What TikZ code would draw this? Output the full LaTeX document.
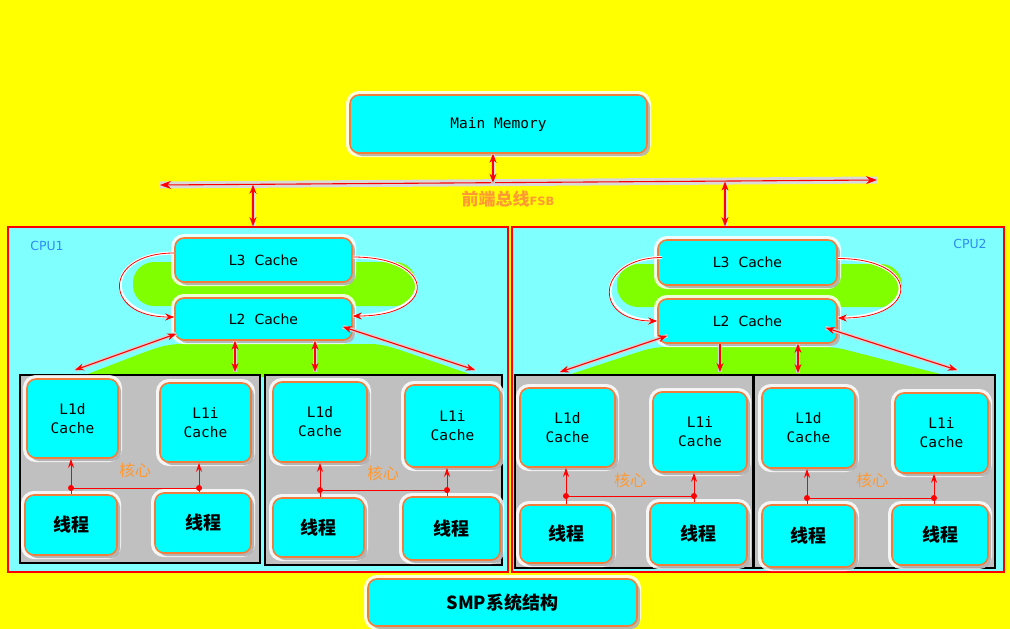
\documentclass[tikz,border=0pt]{standalone}
\usepackage{fontspec}
\setmainfont{DejaVu Sans}
\newfontfamily\monofont{DejaVu Sans Mono}
\newfontfamily\cjk{Noto Sans CJK SC}
\usetikzlibrary{arrows.meta,shadows}

\definecolor{bgyellow}{HTML}{FFFF00}
\definecolor{cpuface}{HTML}{80FFFF}
\definecolor{blobgreen}{HTML}{80FF00}
\definecolor{boxface}{HTML}{00FFFF}
\definecolor{boxline}{HTML}{F07D3C}
\definecolor{coreface}{HTML}{C0C0C0}
\definecolor{cpulabel}{HTML}{2D8CF0}
\definecolor{coretext}{HTML}{FF9933}

\tikzset{
  cachebox/.style={draw=boxline, line width=1.6pt, fill=boxface, rounded corners=9pt,
    align=center, inner sep=2pt,
    preaction={draw=white, line width=8pt, opacity=0.85},
    drop shadow={shadow xshift=3pt, shadow yshift=-3pt, fill=gray, opacity=0.55}},
  cpubox/.style={draw=red, line width=1.8pt, fill=cpuface},
  corebox/.style={draw=black, line width=1.5pt, fill=coreface},
  sanstext/.style={font=\fontsize{14}{17}\selectfont},
  monotext/.style={font=\monofont\fontsize{14.5}{19}\selectfont},
  threadtext/.style={font=\cjk\bfseries\fontsize{18}{20}\selectfont},
  corelabel/.style={font=\cjk\fontsize{16}{18}\selectfont, text=coretext},
  cpuname/.style={font=\fontsize{12.5}{14}\selectfont, text=cpulabel},
  link/.style={red, line width=1.1pt, {Stealth[length=9pt,width=7pt]}-{Stealth[length=9pt,width=7pt]},
    preaction={draw=gray!35, line width=4pt, -}},
  loopline/.style={red, line width=0.8pt, -{Stealth[length=9pt,width=7pt]},
    preaction={draw=white, line width=3pt, -}},
  wire/.style={red, line width=1pt, -{Stealth[length=9pt,width=6pt]}},
  junction/.style={red}
}

\begin{document}
\begin{tikzpicture}[x=1pt, y=-1pt]
\useasboundingbox (0,0) rectangle (1010,629);
\fill[bgyellow] (0,0) rectangle (1010,629);

% memory and front side bus
\node[cachebox, monotext, minimum width=297pt, minimum height=58pt] (mem) at (498.5,124) {Main Memory};
\coordinate (fsbw) at (160,185);
\coordinate (fsbe) at (877,180);
\coordinate (fsbm) at (493,182.7);
\coordinate (fsba) at (253,184.8);
\coordinate (fsbb) at (725,181.6);
\draw[red, line width=1.1pt, {Stealth[length=11pt,width=8pt]}-{Stealth[length=11pt,width=8pt]},
  preaction={draw=gray!30, line width=7pt, -}] (fsbw) -- (fsbe);
\node (fsblabel) at (508,199) {{\cjk\bfseries\fontsize{17}{17}\selectfont\color{coretext}前端总线}{\bfseries\fontsize{11.5}{12}\selectfont\color{coretext}FSB}};

% processors
\node[cpubox, minimum width=500pt, minimum height=345pt] (cpu1) at (258,399.5) {};
\node[cpubox, minimum width=492pt, minimum height=345pt] (cpu2) at (758,399.5) {};
\node[cpuname] (cpu1name) at (47,246) {CPU1};
\node[cpuname] (cpu2name) at (970,244) {CPU2};

\draw[link] (mem.south -| fsbm) -- (fsbm);
\draw[link] (fsba) -- (fsba |- cpu1.north);
\draw[link] (fsbb) -- (fsbb |- cpu2.north);

% green areas
\fill[blobgreen, rounded corners=21pt] (133,262) rectangle (416,306);
\fill[blobgreen, rounded corners=10pt] (80,377) -- (150,350) -- (170,344) -- (380,344) -- (400,350) -- (478,377) -- cycle;
\fill[blobgreen, rounded corners=21pt] (617,264) rectangle (902,307);
\fill[blobgreen, rounded corners=10pt] (562,377) -- (635,353) -- (655,347) -- (835,347) -- (858,353) -- (952,377) -- cycle;

% CPU1
\node[cachebox, sanstext, minimum width=177pt, minimum height=44pt] (l3a) at (263.5,260) {L3\ \ Cache};
\node[cachebox, sanstext, minimum width=177pt, minimum height=42pt] (l2a) at (263.5,319) {L2\ \ Cache};
\draw[loopline] ([yshift=7pt]l3a.west) .. controls +(-72,0) and +(-72,0) .. ([yshift=2pt]l2a.west);
\draw[loopline] ([yshift=3pt]l3a.east) .. controls +(85,0) and +(85,0) .. ([yshift=3pt]l2a.east);

\node[corebox, minimum width=240pt, minimum height=188pt] (coreA) at (140,469) {};
\node[corebox, minimum width=237pt, minimum height=190pt] (coreB) at (383.5,470) {};

\coordinate (ta1) at (75,370);
\coordinate (ta2) at (235,372);
\coordinate (ta3) at (315,372);
\coordinate (ta4) at (475,370);
\draw[link] ([xshift=2pt,yshift=7pt]l2a.south west) -- (ta1);
\draw[link] (l2a.south -| ta2) -- (ta2);
\draw[link] (l2a.south -| ta3) -- (ta3);
\draw[link] ([xshift=-10pt,yshift=14pt]l2a.south east) -- (ta4);

\node[cachebox, monotext, minimum width=91pt, minimum height=79pt] (l1dA) at (72.5,418.5) {L1d\\Cache};
\node[cachebox, monotext, minimum width=91pt, minimum height=79pt] (l1iA) at (205.5,422.5) {L1i\\Cache};
\node[cachebox, threadtext, minimum width=92pt, minimum height=60pt] (thrA1) at (71,525) {线程};
\node[cachebox, threadtext, minimum width=96pt, minimum height=60pt] (thrA2) at (203,523) {线程};
\node[corelabel] (hxA) at (135,470) {核心};
\coordinate (jA1) at (71,488);
\coordinate (jA2) at (199,488);
\draw[wire] (thrA1.north -| jA1) -- (jA1 |- l1dA.south);
\draw[wire] (thrA2.north -| jA2) -- (jA2 |- l1iA.south);
\draw[red, line width=1pt] (jA1) -- (jA2);
\fill[junction] (jA1) circle (3) (jA2) circle (3);

\node[cachebox, monotext, minimum width=94pt, minimum height=80pt] (l1dB) at (320,422) {L1d\\Cache};
\node[cachebox, monotext, minimum width=95pt, minimum height=82pt] (l1iB) at (452.5,426) {L1i\\Cache};
\node[cachebox, threadtext, minimum width=91pt, minimum height=59pt] (thrB1) at (318.5,527.5) {线程};
\node[cachebox, threadtext, minimum width=97pt, minimum height=63pt] (thrB2) at (451.5,528.5) {线程};
\node[corelabel] (hxB) at (383,473) {核心};
\coordinate (jB1) at (320,490);
\coordinate (jB2) at (447,490);
\draw[wire] (thrB1.north -| jB1) -- (jB1 |- l1dB.south);
\draw[wire] (thrB2.north -| jB2) -- (jB2 |- l1iB.south);
\draw[red, line width=1pt] (jB1) -- (jB2);
\fill[junction] (jB1) circle (3) (jB2) circle (3);

% CPU2
\node[cachebox, sanstext, minimum width=179pt, minimum height=45pt] (l3b) at (747.5,262.5) {L3\ \ Cache};
\node[cachebox, sanstext, minimum width=179pt, minimum height=44pt] (l2b) at (747.5,321) {L2\ \ Cache};
\draw[loopline] ([xshift=5pt,yshift=5pt]l3b.west) .. controls +(-66,0) and +(-66,0) .. (l2b.west);
\draw[loopline] ([yshift=4pt]l3b.east) .. controls +(83,0) and +(83,0) .. ([yshift=3pt]l2b.east);

\node[corebox, minimum width=238pt, minimum height=193pt] (coreC) at (634,471.5) {};
\node[corebox, minimum width=241pt, minimum height=193pt] (coreD) at (874.5,471.5) {};

\coordinate (tb1) at (560,372);
\coordinate (tb2) at (720,372);
\coordinate (tb3) at (798,373);
\coordinate (tb4) at (957,370);
\draw[link] ([xshift=10pt,yshift=8pt]l2b.south west) -- (tb1);
\draw[link, -{Stealth[length=9pt,width=7pt]}] (l2b.south -| tb2) -- (tb2);
\draw[link] (l2b.south -| tb3) -- (tb3);
\draw[link] ([xshift=-12pt,yshift=16pt]l2b.south east) -- (tb4);

\node[cachebox, monotext, minimum width=95pt, minimum height=79pt] (l1dC) at (567.5,427.5) {L1d\\Cache};
\node[cachebox, monotext, minimum width=94pt, minimum height=80pt] (l1iC) at (700,432) {L1i\\Cache};
\node[cachebox, threadtext, minimum width=92pt, minimum height=58pt] (thrC1) at (566,534) {线程};
\node[cachebox, threadtext, minimum width=97pt, minimum height=62pt] (thrC2) at (698.5,534) {线程};
\node[corelabel] (hxC) at (630,480) {核心};
\coordinate (jC1) at (566,496);
\coordinate (jC2) at (694,496);
\draw[wire] (thrC1.north -| jC1) -- (jC1 |- l1dC.south);
\draw[wire] (thrC2.north -| jC2) -- (jC2 |- l1iC.south);
\draw[red, line width=1pt] (jC1) -- (jC2);
\fill[junction] (jC1) circle (3) (jC2) circle (3);

\node[cachebox, monotext, minimum width=93pt, minimum height=80pt] (l1dD) at (808.5,428) {L1d\\Cache};
\node[cachebox, monotext, minimum width=93pt, minimum height=80pt] (l1iD) at (941.5,433) {L1i\\Cache};
\node[cachebox, threadtext, minimum width=93pt, minimum height=62pt] (thrD1) at (808.5,536) {线程};
\node[cachebox, threadtext, minimum width=96pt, minimum height=60pt] (thrD2) at (940,535) {线程};
\node[corelabel] (hxD) at (872,480) {核心};
\coordinate (jD1) at (807,498);
\coordinate (jD2) at (934,498);
\draw[wire] (thrD1.north -| jD1) -- (jD1 |- l1dD.south);
\draw[wire] (thrD2.north -| jD2) -- (jD2 |- l1iD.south);
\draw[red, line width=1pt] (jD1) -- (jD2);
\fill[junction] (jD1) circle (3) (jD2) circle (3);

% caption
\node[cachebox, threadtext, minimum width=269pt, minimum height=47pt] (smp) at (502.5,602.5) {SMP系统结构};
\end{tikzpicture}
\end{document}
